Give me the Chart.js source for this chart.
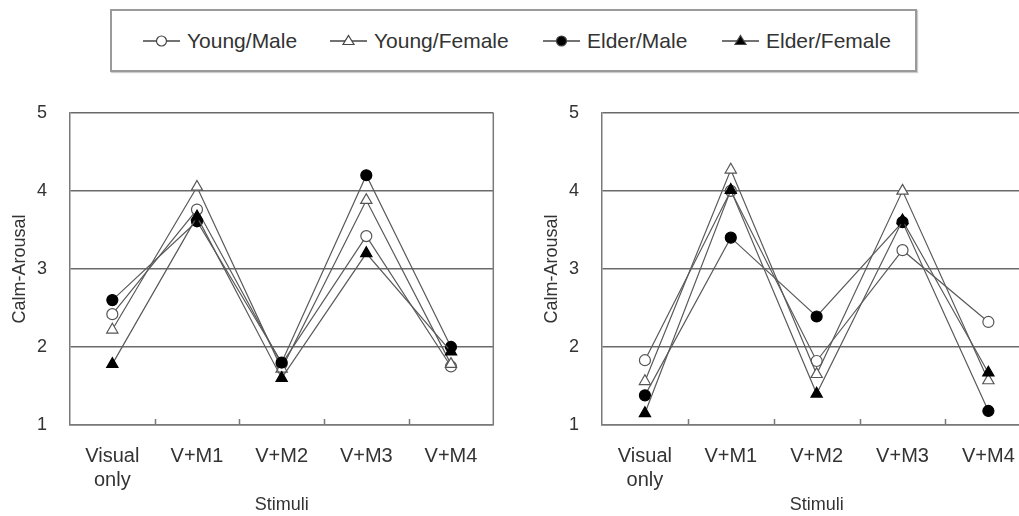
<!DOCTYPE html>
<html>
<head>
<meta charset="utf-8">
<script src="https://cdn.jsdelivr.net/npm/chart.js@4"></script>
<style>
  html, body { margin: 0; padding: 0; background: #fff; overflow: hidden; }
  body { width: 1019px; height: 516px; position: relative; font-family: "Liberation Sans", Arial, sans-serif; }
  #legend { position: absolute; left: 110px; top: 9px; width: 803px; height: 59px; border: 2px solid #9a9a9a; box-shadow: 1px 1px 1px #ccc; }
  .item { position: absolute; top: 0; height: 59px; display: flex; align-items: center; font-size: 21px; color: #333; }
  .item svg { margin-right: 7px; }
  .box { position: absolute; top: 79px; height: 437px; }
</style>
</head>
<body>
<div id="legend"></div>
<div class="box" style="left:0px; width:501px"><canvas id="chartA"></canvas></div>
<div class="box" style="left:532px; width:507px"><canvas id="chartB"></canvas></div>
<script>
// categories
var stimuli = [["Visual", "only"], "V+M1", "V+M2", "V+M3", "V+M4"];
var yTicks = [1, 2, 3, 4, 5];

// left panel
var youngMaleA   = [2.42, 3.76, 1.78, 3.42, 1.75];
var youngFemaleA = [2.22, 4.05, 1.72, 3.88, 1.78];
var elderMaleA   = [2.60, 3.61, 1.80, 4.20, 2.00];
var elderFemaleA = [1.78, 3.67, 1.60, 3.20, 1.94];

// right panel
var youngMaleB   = [1.83, 4.00, 1.82, 3.24, 2.32];
var youngFemaleB = [1.56, 4.27, 1.65, 4.00, 1.57];
var elderMaleB   = [1.38, 3.40, 2.39, 3.60, 1.18];
var elderFemaleB = [1.15, 4.01, 1.40, 3.62, 1.67];

var seriesNames = ["Young/Male", "Young/Female", "Elder/Male", "Elder/Female"];
var lineColor = '#5a5a5a';

var styles = [
  { pointStyle: 'circle',   fill: '#ffffff', radius: 5.5, order: 3 },
  { pointStyle: 'triangle', fill: '#ffffff', radius: 6.5, order: 2 },
  { pointStyle: 'circle',   fill: '#000000', radius: 5.5, order: 1 },
  { pointStyle: 'triangle', fill: '#000000', radius: 6.5, order: 0 }
];

// legend (html)
var legendX = [143, 330, 543, 722];
var legend = document.getElementById('legend');
seriesNames.forEach(function (name, i) {
  var s = styles[i];
  var mark = s.pointStyle === 'circle'
    ? '<circle cx="18.5" cy="9" r="5" fill="' + s.fill + '" stroke="#444" stroke-width="1.2"/>'
    : '<polygon points="18.5,3.5 24,12.5 13,12.5" fill="' + s.fill + '" stroke="#444" stroke-width="1.2"/>';
  var el = document.createElement('div');
  el.className = 'item';
  el.style.left = (legendX[i] - 112) + 'px';
  el.innerHTML = '<svg width="37" height="18"><line x1="0" y1="9" x2="37" y2="9" stroke="#444" stroke-width="1.3"/>' + mark + '</svg>' + name;
  legend.appendChild(el);
});

// right edge of the frame + small inward ticks between categories
var framePlugin = {
  id: 'frame',
  afterDraw: function (chart) {
    var a = chart.chartArea, c = chart.ctx, x = chart.scales.x;
    c.save();
    c.strokeStyle = '#7a7a7a';
    c.lineWidth = 1.5;
    c.beginPath();
    c.moveTo(a.right, a.top);
    c.lineTo(a.right, a.bottom);
    for (var i = 1; i < stimuli.length; i++) {
      var px = Math.round(x.getPixelForValue(i - 0.5)) + 0.5;
      c.moveTo(px, a.bottom);
      c.lineTo(px, a.bottom - 6);
    }
    c.stroke();
    c.restore();
  }
};

function makeDatasets(sets) {
  return sets.map(function (vals, i) {
    var s = styles[i];
    return {
      label: seriesNames[i],
      data: vals,
      order: s.order,
      borderColor: lineColor,
      borderWidth: 1.2,
      pointStyle: s.pointStyle,
      pointRadius: s.radius,
      pointBackgroundColor: s.fill,
      pointBorderColor: s.fill === '#000000' ? '#000000' : '#555555',
      pointBorderWidth: 1.2,
      tension: 0
    };
  });
}

function makeChart(id, sets) {
  var ctx = document.getElementById(id).getContext('2d');
  return new Chart(ctx, {
    type: 'line',
    data: { labels: stimuli, datasets: makeDatasets(sets) },
    options: {
      responsive: true,
      maintainAspectRatio: false,
      animation: false,
      layout: { padding: { top: 22, right: 0, left: 0, bottom: 0 } },
      plugins: { legend: { display: false }, tooltip: { enabled: false } },
      scales: {
        x: {
          offset: true,
          afterFit: function (scale) { scale.height = 91; },
          grid: { display: false },
          border: { color: '#7a7a7a', width: 1.5 },
          ticks: { color: '#333', font: { family: 'Liberation Sans', size: 20 }, padding: 11, maxRotation: 0 },
          title: { display: true, text: 'Stimuli', color: '#333', font: { family: 'Liberation Sans', size: 18 }, padding: { top: 0, bottom: 0 } }
        },
        y: {
          min: 1,
          max: 5,
          afterFit: function (scale) { scale.width = 70; },
          afterBuildTicks: function (scale) { scale.ticks = yTicks.map(function (v) { return { value: v }; }); },
          grid: { drawTicks: false, color: '#6a6a6a', lineWidth: 1.5 },
          border: { color: '#7a7a7a', width: 1.5 },
          ticks: { color: '#333', font: { family: 'Liberation Sans', size: 18 }, padding: 23 },
          title: { display: true, text: 'Calm-Arousal', color: '#333', font: { family: 'Liberation Sans', size: 18 }, padding: { top: 9, bottom: 0 } }
        }
      }
    },
    plugins: [framePlugin]
  });
}

makeChart('chartA', [youngMaleA, youngFemaleA, elderMaleA, elderFemaleA]);
makeChart('chartB', [youngMaleB, youngFemaleB, elderMaleB, elderFemaleB]);
</script>
</body>
</html>
